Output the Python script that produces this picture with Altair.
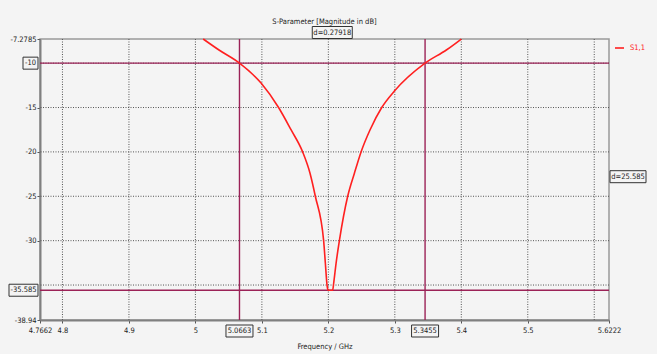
import altair as alt
import pandas as pd

# ---- data ----
freq = [5.0117, 5.0355, 5.0663, 5.0991, 5.1251, 5.1438, 5.1613, 5.1724, 5.1804,
        5.1929, 5.1955, 5.1980, 5.1996, 5.2065, 5.2080, 5.2116, 5.2166, 5.2291, 5.2392,
        5.2492, 5.2628, 5.2803, 5.2994, 5.3455, 5.3775, 5.4000]
s11 = [-7.2785, -8.52, -10.0, -12.27, -15.0, -17.5, -20.0, -22.4, -25.0,
       -30.0, -32.55, -35.0, -35.585, -35.585, -34.8, -32.55, -30.0, -25.0, -22.4,
       -20.0, -17.5, -15.0, -13.14, -10.0, -8.52, -7.2785]

x_ticks = [4.7662, 4.8, 4.9, 5.0, 5.1, 5.2, 5.3, 5.4, 5.5, 5.6222]
y_ticks = [-7.2785, -15, -20, -25, -30, -38.94]
x_grid = [4.8, 4.9, 5.0, 5.1, 5.2, 5.3, 5.4, 5.5, 5.6]
y_grid = [-10, -15, -20, -25, -30, -35]
marker_x = [5.0663, 5.3455]
marker_y = [-10.0, -35.585]
marker_x_labels = ["5.0663", "5.3455"]
marker_y_labels = ["-10", "-35.585"]
dx_label = "d=0.27918"
dy_label = "d=25.585"
series_name = "S1,1"
title_text = "S-Parameter [Magnitude in dB]"
x_title = "Frequency / GHz"

X_DOMAIN = [4.7662, 5.6222]
Y_DOMAIN = [-38.94, -7.2785]

W, H = 569, 281
FONT = "DejaVu Sans Condensed"
FS = 7.5
BG = "#f4f4f4"
MARK_COL = "#9b2257"
GRID_COL = "#555555"

xscale = alt.Scale(domain=X_DOMAIN, nice=False, zero=False)
yscale = alt.Scale(domain=Y_DOMAIN, nice=False, zero=False)

xaxis = alt.Axis(values=x_ticks, labelExpr="datum.value", grid=False, title=x_title,
                 labelOverlap=False, labelFlush=False, tickSize=3, labelPadding=3,
                 labelFont=FONT, labelFontSize=FS, labelColor="#222", titleFont=FONT,
                 titleFontSize=FS, titleFontWeight="normal", titleColor="#222",
                 titleY=26, titleBaseline="middle", domainColor="#808080",
                 domainWidth=2, tickColor="#555")
yaxis = alt.Axis(values=y_ticks, labelExpr="datum.value", grid=False, title=None,
                 labelOverlap=False, labelFlush=False, tickSize=3, labelPadding=1,
                 labelFont=FONT, labelFontSize=FS, labelColor="#222",
                 domainColor="#808080", domainWidth=2, tickColor="#555")

curve_df = pd.DataFrame({"f": freq, "db": s11})

gx = alt.Chart(pd.DataFrame({"f": x_grid})).mark_rule(
    color=GRID_COL, strokeDash=[1, 1.5], strokeWidth=1).encode(
    x=alt.X("f:Q", scale=xscale, axis=xaxis))
gy = alt.Chart(pd.DataFrame({"db": y_grid})).mark_rule(
    color=GRID_COL, strokeDash=[1, 1.5], strokeWidth=1).encode(
    y=alt.Y("db:Q", scale=yscale, axis=yaxis))

curve = alt.Chart(curve_df).mark_line(color="#ff2020", strokeWidth=1.6,
                                      interpolate="monotone").encode(
    x=alt.X("f:Q", scale=xscale, axis=xaxis),
    y=alt.Y("db:Q", scale=yscale, axis=yaxis),
    order="f:Q")

mx = alt.Chart(pd.DataFrame({"f": marker_x})).mark_rule(
    color=MARK_COL, strokeWidth=1.4).encode(x=alt.X("f:Q", scale=xscale, axis=xaxis))
my = alt.Chart(pd.DataFrame({"db": marker_y})).mark_rule(
    color=MARK_COL, strokeWidth=1.4).encode(y=alt.Y("db:Q", scale=yscale, axis=yaxis))

def box(w, h):
    return f"M{-w/2},{-h/2}L{w/2},{-h/2}L{w/2},{h/2}L{-w/2},{h/2}Z"

BOX = dict(size=4, fill=BG, stroke="#333", strokeWidth=1, opacity=1, fillOpacity=1)
TXT = dict(font=FONT, fontSize=FS, color="#222", baseline="middle")

# boxed x marker labels
xlab_df = pd.DataFrame({"f": marker_x, "t": marker_x_labels})
xbox = alt.Chart(xlab_df).mark_point(shape=box(27, 12), **BOX).encode(
    x=alt.X("f:Q", scale=xscale, axis=xaxis), y=alt.value(H + 11))
xtxt = alt.Chart(xlab_df).mark_text(**TXT).encode(
    x=alt.X("f:Q", scale=xscale, axis=xaxis), y=alt.value(H + 11), text="t:N")

# boxed y marker labels
ylab1 = pd.DataFrame({"db": [marker_y[0]], "t": [marker_y_labels[0]]})
ylab2 = pd.DataFrame({"db": [marker_y[1]], "t": [marker_y_labels[1]]})
ybox1 = alt.Chart(ylab1).mark_point(shape=box(15, 12), **BOX).encode(
    y=alt.Y("db:Q", scale=yscale, axis=yaxis), x=alt.value(-9.5))
ytxt1 = alt.Chart(ylab1).mark_text(**TXT).encode(
    y=alt.Y("db:Q", scale=yscale, axis=yaxis), x=alt.value(-9.5), text="t:N")
ybox2 = alt.Chart(ylab2).mark_point(shape=box(29, 12), **BOX).encode(
    y=alt.Y("db:Q", scale=yscale, axis=yaxis), x=alt.value(-16.5))
ytxt2 = alt.Chart(ylab2).mark_text(**TXT).encode(
    y=alt.Y("db:Q", scale=yscale, axis=yaxis), x=alt.value(-16.5), text="t:N")

# delta labels
dx_df = pd.DataFrame({"f": [sum(marker_x) / 2], "t": [dx_label]})
dxbox = alt.Chart(dx_df).mark_point(shape=box(40, 12), **BOX).encode(
    x=alt.X("f:Q", scale=xscale, axis=xaxis), y=alt.value(-6.5))
dxtxt = alt.Chart(dx_df).mark_text(**TXT).encode(
    x=alt.X("f:Q", scale=xscale, axis=xaxis), y=alt.value(-6.5), text="t:N")

dy_df = pd.DataFrame({"db": [sum(marker_y) / 2], "t": [dy_label]})
dybox = alt.Chart(dy_df).mark_point(shape=box(36, 12), **BOX).encode(
    y=alt.Y("db:Q", scale=yscale, axis=yaxis), x=alt.value(W + 19))
dytxt = alt.Chart(dy_df).mark_text(**TXT).encode(
    y=alt.Y("db:Q", scale=yscale, axis=yaxis), x=alt.value(W + 19), text="t:N")

# title
ttl = alt.Chart(pd.DataFrame({"t": [title_text]})).mark_text(**TXT).encode(
    x=alt.value(W / 2), y=alt.value(-17), text="t:N")

# legend
leg_line = alt.Chart(pd.DataFrame({"s": [series_name]})).mark_rule(
    color="#ff2020", strokeWidth=1.6).encode(
    x=alt.value(W + 6), x2=alt.value(W + 15), y=alt.value(9))
leg_txt = alt.Chart(pd.DataFrame({"s": [series_name]})).mark_text(
    font=FONT, fontSize=FS, color="#ff2020", align="left", baseline="middle").encode(
    x=alt.value(W + 21), y=alt.value(9), text="s:N")

chart = alt.layer(gx, gy, mx, my, curve, xbox, xtxt, ybox1, ytxt1, ybox2, ytxt2,
                  dxbox, dxtxt, dybox, dytxt, ttl, leg_line, leg_txt).properties(
    width=W, height=H,
    autosize=alt.AutoSizeParams(type="none"),
    padding={"left": 40, "top": 39, "right": 48, "bottom": 34},
    background=BG,
).configure_view(stroke="#999999", strokeWidth=1.5, fill=BG)

chart.save("out.html", embed_options={"renderer": "svg", "actions": False})
